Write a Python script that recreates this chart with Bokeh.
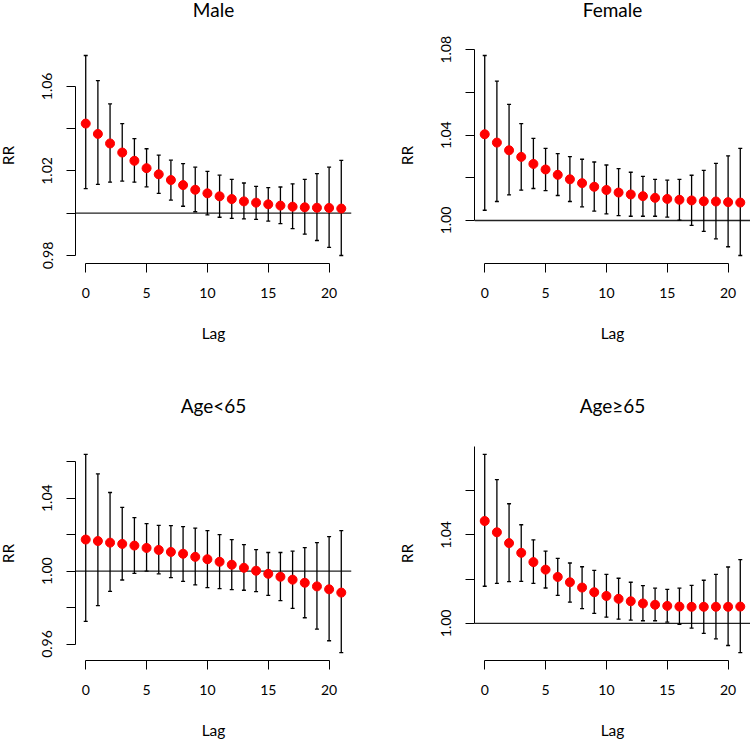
from bokeh.plotting import figure
from bokeh.models import Range1d, FixedTicker, Whisker, ColumnDataSource, Span, TeeHead
from bokeh.layouts import column, row
from bokeh.embed import file_html
from bokeh.resources import INLINE

lags = list(range(22))
x_ticks = [0, 5, 10, 15, 20]

panel_titles = ["Male", "Female", "Age<65", "Age\u226565"]

male_rr = [1.0424, 1.0375, 1.0330, 1.0287, 1.0248, 1.0213, 1.0184, 1.0157, 1.0133, 1.0111, 1.0094,
           1.0080, 1.0067, 1.0056, 1.0050, 1.0042, 1.0036, 1.0031, 1.0028, 1.0026, 1.0025, 1.0022]
male_hi = [1.0746, 1.0627, 1.0517, 1.0424, 1.0353, 1.0305, 1.0275, 1.0251, 1.0235, 1.0218, 1.0198,
           1.0180, 1.0160, 1.0143, 1.0127, 1.0121, 1.0124, 1.0139, 1.0160, 1.0187, 1.0218, 1.0250]
male_lo = [1.0116, 1.0136, 1.0147, 1.0152, 1.0147, 1.0125, 1.0094, 1.0062, 1.0033, 1.0007, 0.9992,
           0.9981, 0.9976, 0.9973, 0.9971, 0.9963, 0.9951, 0.9927, 0.9901, 0.9871, 0.9838, 0.9800]

female_rr = [1.0404, 1.0365, 1.0329, 1.0298, 1.0265, 1.0239, 1.0214, 1.0193, 1.0175, 1.0158, 1.0143,
             1.0131, 1.0122, 1.0114, 1.0106, 1.0101, 1.0097, 1.0094, 1.0090, 1.0089, 1.0086, 1.0084]
female_hi = [1.0773, 1.0653, 1.0544, 1.0454, 1.0385, 1.0338, 1.0313, 1.0299, 1.0287, 1.0274, 1.0260,
             1.0243, 1.0226, 1.0207, 1.0193, 1.0189, 1.0193, 1.0212, 1.0235, 1.0268, 1.0303, 1.0338]
female_lo = [1.0048, 1.0089, 1.0120, 1.0142, 1.0150, 1.0140, 1.0117, 1.0089, 1.0064, 1.0044, 1.0031,
             1.0023, 1.0020, 1.0020, 1.0020, 1.0016, 1.0002, 0.9977, 0.9949, 0.9914, 0.9877, 0.9836]

young_rr = [1.0173, 1.0165, 1.0156, 1.0149, 1.0140, 1.0127, 1.0116, 1.0105, 1.0095, 1.0078, 1.0065,
            1.0051, 1.0035, 1.0018, 1.0002, 0.9985, 0.9969, 0.9953, 0.9936, 0.9916, 0.9900, 0.9882]
young_hi = [1.0640, 1.0533, 1.0431, 1.0349, 1.0293, 1.0260, 1.0251, 1.0249, 1.0244, 1.0236, 1.0222,
            1.0200, 1.0173, 1.0145, 1.0118, 1.0102, 1.0102, 1.0109, 1.0129, 1.0156, 1.0189, 1.0222]
young_lo = [0.9724, 0.9811, 0.9889, 0.9951, 0.9987, 1.0000, 0.9985, 0.9964, 0.9944, 0.9924, 0.9909,
            0.9904, 0.9898, 0.9895, 0.9887, 0.9867, 0.9838, 0.9796, 0.9744, 0.9682, 0.9618, 0.9553]

old_rr = [1.0463, 1.0412, 1.0363, 1.0319, 1.0277, 1.0243, 1.0210, 1.0186, 1.0162, 1.0141, 1.0124,
          1.0111, 1.0100, 1.0090, 1.0084, 1.0079, 1.0076, 1.0075, 1.0075, 1.0075, 1.0075, 1.0076]
old_hi = [1.0764, 1.0650, 1.0541, 1.0446, 1.0378, 1.0327, 1.0294, 1.0273, 1.0256, 1.0240, 1.0222,
          1.0204, 1.0186, 1.0171, 1.0159, 1.0154, 1.0159, 1.0172, 1.0195, 1.0222, 1.0255, 1.0288]
old_lo = [1.0168, 1.0181, 1.0189, 1.0190, 1.0181, 1.0160, 1.0127, 1.0096, 1.0067, 1.0045, 1.0028,
          1.0019, 1.0015, 1.0012, 1.0012, 1.0006, 0.9996, 0.9979, 0.9955, 0.9930, 0.9900, 0.9868]

male_yticks = [0.98, 1.00, 1.02, 1.04, 1.06]
male_ylabels = ["0.98", "", "1.02", "", "1.06"]
female_yticks = [1.00, 1.02, 1.04, 1.06, 1.08]
female_ylabels = ["1.00", "", "1.04", "", "1.08"]
young_yticks = [0.96, 0.98, 1.00, 1.02, 1.04, 1.06]
young_ylabels = ["0.96", "", "1.00", "", "1.04", ""]
old_yticks = [1.00, 1.02, 1.04, 1.06, 1.08]
old_ylabels = ["1.00", "", "1.04", "", "1.08"]

FONT = "Lato"


def make_panel(title, rr, lo, hi, yticks, ylabels, width, height, bl, br, bt, bb, title_standoff):
    ymin, ymax = min(lo), max(hi)
    ypad = 0.04 * (ymax - ymin)
    xmin, xmax = min(lags), max(lags)
    xpad = 0.04 * (xmax - xmin)
    p = figure(width=width, height=height,
               x_range=Range1d(xmin - xpad, xmax + xpad),
               y_range=Range1d(ymin - ypad, ymax + ypad),
               output_backend="svg", toolbar_location=None,
               min_border_left=bl, min_border_right=br,
               min_border_top=bt, min_border_bottom=bb,
               x_axis_label="Lag", y_axis_label="RR")
    p.outline_line_color = None
    p.background_fill_color = "white"
    p.border_fill_alpha = 0
    p.xgrid.visible = False
    p.ygrid.visible = False

    p.title.text = title
    p.title.align = "center"
    p.title.text_font = FONT
    p.title.text_font_style = "normal"
    p.title.text_font_size = "19px"
    p.title.text_color = "black"
    p.title.standoff = title_standoff

    for ax in (p.xaxis[0], p.yaxis[0]):
        ax.axis_line_color = "black"
        ax.axis_line_width = 1
        ax.major_tick_line_color = "black"
        ax.major_tick_line_width = 1
        ax.major_tick_out = 9
        ax.major_tick_in = 0
        ax.minor_tick_line_color = None
        ax.major_label_text_font = FONT
        ax.major_label_text_font_size = "14px"
        ax.major_label_text_color = "black"
        ax.axis_label_text_font = FONT
        ax.axis_label_text_font_size = "15.5px"
        ax.axis_label_text_font_style = "normal"
        ax.axis_label_text_color = "black"

    xa = p.xaxis[0]
    xa.ticker = FixedTicker(ticks=x_ticks)
    xa.bounds = (x_ticks[0], x_ticks[-1])
    xa.major_label_standoff = 15
    xa.axis_label_standoff = 23

    ya = p.yaxis[0]
    ya.ticker = FixedTicker(ticks=yticks)
    ya.bounds = (yticks[0], yticks[-1])
    ya.major_label_overrides = {t: l for t, l in zip(yticks, ylabels)}
    ya.major_label_orientation = "vertical"
    ya.major_label_standoff = 14
    ya.axis_label_standoff = 23

    src = ColumnDataSource(dict(lag=lags, rr=rr, lo=lo, hi=hi))
    ref = Span(location=1.0, dimension="width", line_color="#222222", line_width=1.3, level="underlay")
    p.add_layout(ref)
    wh = Whisker(base="lag", upper="hi", lower="lo", source=src, dimension="height",
                 line_color="black", line_width=1.3, level="underlay",
                 upper_head=TeeHead(size=4, line_color="black", line_width=1.3),
                 lower_head=TeeHead(size=4, line_color="black", line_width=1.3))
    p.add_layout(wh)
    p.scatter("lag", "rr", source=src, size=9, fill_color="red", line_color="red", marker="circle")
    return p


TOP = 90
p1 = make_panel(panel_titles[0], male_rr, male_lo, male_hi, male_yticks, male_ylabels,
                390, 413, 90, 24, TOP, 107, 53)
p2 = make_panel(panel_titles[1], female_rr, female_lo, female_hi, female_yticks, female_ylabels,
                375, 413, 99, 0, TOP, 107, 53)
p3 = make_panel(panel_titles[2], young_rr, young_lo, young_hi, young_yticks, young_ylabels,
                390, 385, 90, 24, TOP, 79, 60)
p4 = make_panel(panel_titles[3], old_rr, old_lo, old_hi, old_yticks, old_ylabels,
                375, 385, 99, 0, TOP, 79, 60)

layout = column(row(p1, p2, margin=(-43, 0, 0, -15)),
                row(p3, p4, margin=(-14, 0, 0, -15)))

open("out.html", "w").write(file_html(layout, INLINE))
